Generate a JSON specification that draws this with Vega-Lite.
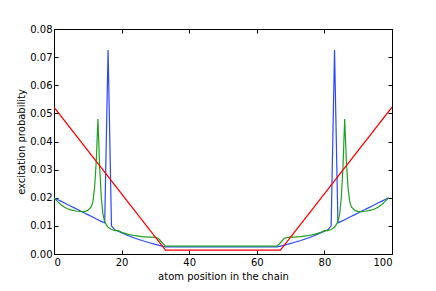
{
  "$schema": "https://vega.github.io/schema/vega-lite/v6.json",
  "width": 338,
  "height": 225,
  "autosize": {"type": "none"},
  "padding": {"left": 54, "top": 29, "right": 44, "bottom": 37},
  "background": "white",
  "config": {
    "view": {"stroke": null},
    "axis": {
      "grid": false,
      "domainColor": "black",
      "domainWidth": 1,
      "tickColor": "black",
      "tickWidth": 1,
      "tickSize": -4,
      "labelFont": "DejaVu Sans",
      "labelFontSize": 10,
      "labelColor": "black",
      "titleFont": "DejaVu Sans",
      "titleFontSize": 10,
      "titleFontWeight": "normal",
      "titleColor": "black"
    }
  },
  "datasets": {
    "blue": [
      {"x": 0, "y": 0.0200}, {"x": 1, "y": 0.0194}, {"x": 2, "y": 0.0188}, {"x": 3, "y": 0.0182},
      {"x": 4, "y": 0.0176}, {"x": 5, "y": 0.0170}, {"x": 6, "y": 0.0164}, {"x": 7, "y": 0.0158},
      {"x": 8, "y": 0.0152}, {"x": 9, "y": 0.0146}, {"x": 10, "y": 0.0140}, {"x": 11, "y": 0.0134},
      {"x": 12, "y": 0.0128}, {"x": 13, "y": 0.0122}, {"x": 14, "y": 0.0116}, {"x": 15, "y": 0.0111},
      {"x": 16, "y": 0.0725}, {"x": 17, "y": 0.0100}, {"x": 18, "y": 0.0086}, {"x": 20, "y": 0.0076},
      {"x": 22, "y": 0.0065}, {"x": 24, "y": 0.0056}, {"x": 26, "y": 0.0048}, {"x": 28, "y": 0.0041},
      {"x": 30, "y": 0.0034}, {"x": 32, "y": 0.0028}, {"x": 33, "y": 0.0025}, {"x": 66, "y": 0.0025},
      {"x": 67, "y": 0.0028}, {"x": 69, "y": 0.0034}, {"x": 71, "y": 0.0041}, {"x": 73, "y": 0.0048},
      {"x": 75, "y": 0.0056}, {"x": 77, "y": 0.0065}, {"x": 79, "y": 0.0076}, {"x": 81, "y": 0.0086},
      {"x": 82, "y": 0.0100}, {"x": 83, "y": 0.0725}, {"x": 84, "y": 0.0111}, {"x": 85, "y": 0.0116},
      {"x": 86, "y": 0.0122}, {"x": 87, "y": 0.0128}, {"x": 88, "y": 0.0134}, {"x": 89, "y": 0.0140},
      {"x": 90, "y": 0.0146}, {"x": 91, "y": 0.0152}, {"x": 92, "y": 0.0158}, {"x": 93, "y": 0.0164},
      {"x": 94, "y": 0.0170}, {"x": 95, "y": 0.0176}, {"x": 96, "y": 0.0182}, {"x": 97, "y": 0.0188},
      {"x": 98, "y": 0.0194}, {"x": 99, "y": 0.0200}
    ],
    "green": [
      {"x": 0, "y": 0.0200}, {"x": 1, "y": 0.0187}, {"x": 2, "y": 0.0176}, {"x": 3, "y": 0.0167},
      {"x": 4, "y": 0.0161}, {"x": 5, "y": 0.0157}, {"x": 6, "y": 0.0154}, {"x": 7, "y": 0.0152},
      {"x": 8, "y": 0.0151}, {"x": 9, "y": 0.0151}, {"x": 10, "y": 0.0155}, {"x": 11, "y": 0.0167},
      {"x": 11.5, "y": 0.0185}, {"x": 12, "y": 0.0235}, {"x": 12.5, "y": 0.0330}, {"x": 13, "y": 0.0480},
      {"x": 13.5, "y": 0.0310}, {"x": 14, "y": 0.0200}, {"x": 14.5, "y": 0.0140}, {"x": 15, "y": 0.0114},
      {"x": 16, "y": 0.0095}, {"x": 17, "y": 0.0087}, {"x": 18, "y": 0.0083}, {"x": 19, "y": 0.0083},
      {"x": 20, "y": 0.0077}, {"x": 22, "y": 0.0070}, {"x": 24, "y": 0.0065}, {"x": 26, "y": 0.0062},
      {"x": 28, "y": 0.0060}, {"x": 29, "y": 0.0060}, {"x": 30, "y": 0.0059}, {"x": 31, "y": 0.0054},
      {"x": 32, "y": 0.0040}, {"x": 33, "y": 0.0028}, {"x": 66, "y": 0.0028}, {"x": 67, "y": 0.0040},
      {"x": 68, "y": 0.0054}, {"x": 69, "y": 0.0059}, {"x": 70, "y": 0.0060}, {"x": 71, "y": 0.0060},
      {"x": 73, "y": 0.0062}, {"x": 75, "y": 0.0065}, {"x": 77, "y": 0.0070}, {"x": 79, "y": 0.0077},
      {"x": 80, "y": 0.0083}, {"x": 81, "y": 0.0083}, {"x": 82, "y": 0.0087}, {"x": 83, "y": 0.0095},
      {"x": 84, "y": 0.0114}, {"x": 84.5, "y": 0.0140}, {"x": 85, "y": 0.0200}, {"x": 85.5, "y": 0.0310},
      {"x": 86, "y": 0.0480}, {"x": 86.5, "y": 0.0330}, {"x": 87, "y": 0.0235}, {"x": 87.5, "y": 0.0185},
      {"x": 88, "y": 0.0167}, {"x": 89, "y": 0.0155}, {"x": 90, "y": 0.0151}, {"x": 91, "y": 0.0151},
      {"x": 92, "y": 0.0152}, {"x": 93, "y": 0.0154}, {"x": 94, "y": 0.0157}, {"x": 95, "y": 0.0161},
      {"x": 96, "y": 0.0167}, {"x": 97, "y": 0.0176}, {"x": 98, "y": 0.0187}, {"x": 99, "y": 0.0200}
    ],
    "red": [
      {"x": 0, "y": 0.0522}, {"x": 33, "y": 0.0014}, {"x": 67, "y": 0.0014}, {"x": 100, "y": 0.0522}
    ]
  },
  "layer": [
    {
      "data": {"name": "blue"},
      "mark": {"type": "line", "color": "#2a48ff", "strokeWidth": 1.2, "clip": true},
      "encoding": {
        "x": {"field": "x", "type": "quantitative", "scale": {"domain": [0, 100], "nice": false},
          "axis": {"orient": "bottom", "title": "atom position in the chain", "values": [0, 20, 40, 60, 80, 100], "labelPadding": 7, "titlePadding": 4}},
        "y": {"field": "y", "type": "quantitative", "scale": {"domain": [0, 0.08], "nice": false},
          "axis": {"orient": "left", "title": "excitation probability", "values": [0, 0.01, 0.02, 0.03, 0.04, 0.05, 0.06, 0.07, 0.08], "format": ".2f", "labelPadding": 6, "titlePadding": 3}}
      }
    },
    {
      "data": {"name": "green"},
      "mark": {"type": "line", "color": "#20a020", "strokeWidth": 1.2, "clip": true},
      "encoding": {
        "x": {"field": "x", "type": "quantitative", "axis": null},
        "y": {"field": "y", "type": "quantitative", "axis": null}
      }
    },
    {
      "data": {"name": "red"},
      "mark": {"type": "line", "color": "#ff0000", "strokeWidth": 1.2, "clip": true},
      "encoding": {
        "x": {"field": "x", "type": "quantitative",
          "axis": {"orient": "top", "title": null, "labels": false, "values": [0, 20, 40, 60, 80, 100]}},
        "y": {"field": "y", "type": "quantitative",
          "axis": {"orient": "right", "title": null, "labels": false, "values": [0, 0.01, 0.02, 0.03, 0.04, 0.05, 0.06, 0.07, 0.08]}}
      }
    }
  ],
  "resolve": {"axis": {"x": "independent", "y": "independent"}}
}
